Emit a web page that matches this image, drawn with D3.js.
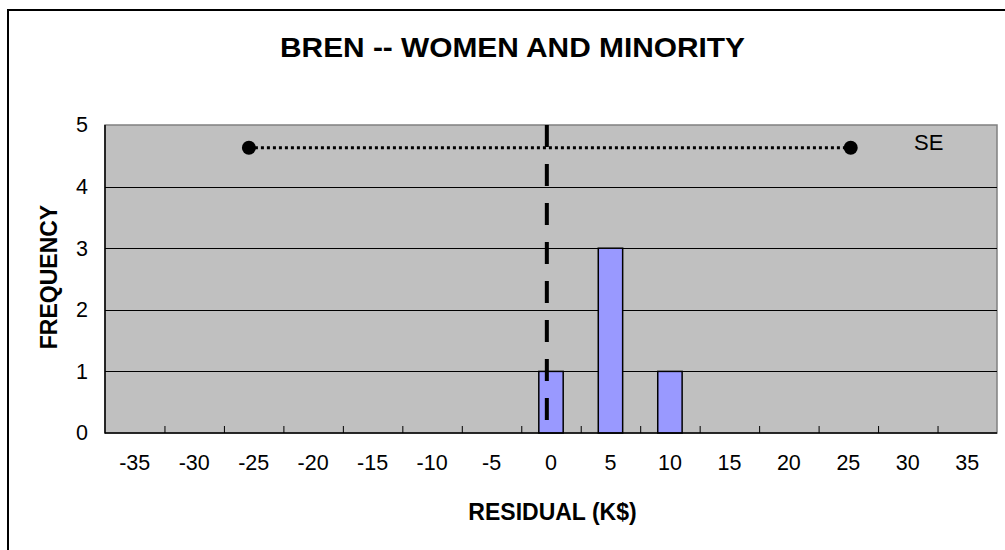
<!DOCTYPE html>
<html>
<head>
<meta charset="utf-8">
<script src="https://cdn.jsdelivr.net/npm/d3@7"></script>
<style>
  html, body { margin: 0; padding: 0; background: #fff; }
  svg { display: block; font-family: "Liberation Sans", Arial, sans-serif; }
</style>
</head>
<body>
<svg id="chart" width="1005" height="550"></svg>
<script>
// ---- data ----
const categories = [-35, -30, -25, -20, -15, -10, -5, 0, 5, 10, 15, 20, 25, 30, 35];
const frequency  = [0, 0, 0, 0, 0, 0, 0, 1, 3, 1, 0, 0, 0, 0, 0];
const yTicks = [0, 1, 2, 3, 4, 5];
const seEnds = [-25.4, 25.2];   // SE range endpoints (K$)
const seLevel = 4.63;          // frequency level where SE bar is drawn
const meanResidual = -0.35;    // dashed vertical reference
const seLabel = "SE";
const titleText = "BREN -- WOMEN AND MINORITY";
const xTitle = "RESIDUAL (K$)";
const yTitle = "FREQUENCY";

// ---- layout ----
const svg = d3.select("#chart");
const L = 105, R = 997, T = 125, B = 433;

const x = d3.scaleBand().domain(categories).range([L, R])
  .paddingInner(0.59).paddingOuter(0.295);
const xLin = d3.scaleLinear()
  .domain([categories[0] - 2.5, categories[categories.length - 1] + 2.5])
  .range([L, R]);
const y = d3.scaleLinear().domain([0, 5]).range([B, T]);

// outer frame
svg.append("rect").attr("x", 8).attr("y", 10).attr("width", 1100).attr("height", 600)
  .attr("fill", "#fff").attr("stroke", "#000").attr("stroke-width", 2);

// plot area
svg.append("rect").attr("x", L).attr("y", T).attr("width", R - L).attr("height", B - T)
  .attr("fill", "#C0C0C0").attr("stroke", "#808080").attr("stroke-width", 1.5);

// gridlines
svg.append("g").selectAll("line").data(yTicks.filter(d => d > 0 && d < 5)).join("line")
  .attr("x1", L).attr("x2", R)
  .attr("y1", d => Math.round(y(d)) + 0.5).attr("y2", d => Math.round(y(d)) + 0.5)
  .attr("stroke", "#000").attr("stroke-width", 1);

// bars
svg.append("g").selectAll("rect").data(categories.map((c, i) => ({c, v: frequency[i]})).filter(d => d.v > 0))
  .join("rect")
  .attr("x", d => x(d.c)).attr("width", x.bandwidth())
  .attr("y", d => y(d.v)).attr("height", d => y(0) - y(d.v))
  .attr("fill", "#9999FF").attr("stroke", "#000").attr("stroke-width", 1.5);

// x axis ticks (between categories, inward)
const boundaries = categories.slice(1).map(c => c - 2.5);
const xTickAxis = d3.axisBottom(xLin).tickValues(boundaries).tickSizeInner(-7).tickSizeOuter(0).tickFormat("");
const gxt = svg.append("g").attr("transform", `translate(0,${B})`).call(xTickAxis);
gxt.select(".domain").remove();
gxt.selectAll(".tick line").attr("stroke", "#000").attr("stroke-width", 1);

// x labels
const xAxis = d3.axisBottom(x).tickSize(0).tickPadding(22);
const gx = svg.append("g").attr("transform", `translate(0,${B})`).call(xAxis);
gx.select(".domain").remove();
gx.selectAll("text").attr("font-size", 21.5).attr("font-family", "Liberation Sans, Arial, sans-serif").attr("fill", "#000");

// y axis labels
const yAxis = d3.axisLeft(y).tickValues(yTicks).tickSize(0).tickPadding(17).tickFormat(d3.format("d"));
const gy = svg.append("g").attr("transform", `translate(${L},0)`).call(yAxis);
gy.select(".domain").remove();
gy.selectAll("text").attr("font-size", 21.5).attr("font-family", "Liberation Sans, Arial, sans-serif").attr("fill", "#000");

// axis lines
svg.append("line").attr("x1", L).attr("x2", L).attr("y1", T).attr("y2", B + 0.5)
  .attr("stroke", "#000").attr("stroke-width", 1.5);
svg.append("line").attr("x1", L).attr("x2", R).attr("y1", B).attr("y2", B)
  .attr("stroke", "#000").attr("stroke-width", 1.5);

// dashed mean line
svg.append("line")
  .attr("x1", xLin(meanResidual)).attr("x2", xLin(meanResidual))
  .attr("y1", y(5)).attr("y2", y(0))
  .attr("stroke", "#000").attr("stroke-width", 4).attr("stroke-dasharray", "22,17");

// SE dotted line + end markers
svg.append("line")
  .attr("x1", xLin(seEnds[0])).attr("x2", xLin(seEnds[1]))
  .attr("y1", y(seLevel)).attr("y2", y(seLevel))
  .attr("stroke", "#000").attr("stroke-width", 3).attr("stroke-dasharray", "3,3");
svg.append("g").selectAll("circle").data(seEnds).join("circle")
  .attr("cx", d => xLin(d)).attr("cy", y(seLevel)).attr("r", 7).attr("fill", "#000");

svg.append("text").attr("x", 914).attr("y", 150).attr("font-size", 22).attr("fill", "#000").text(seLabel);

// title
svg.append("text").attr("x", 512.5).attr("y", 57).attr("text-anchor", "middle")
  .attr("font-size", 28).attr("font-weight", "bold").attr("fill", "#000")
  .attr("textLength", 465).attr("lengthAdjust", "spacingAndGlyphs").text(titleText);

// axis titles
svg.append("text").attr("x", 552.5).attr("y", 520).attr("text-anchor", "middle")
  .attr("font-size", 23).attr("font-weight", "bold").attr("fill", "#000").text(xTitle);
svg.append("text").attr("transform", `translate(57,277) rotate(-90)`).attr("text-anchor", "middle")
  .attr("font-size", 23).attr("font-weight", "bold").attr("fill", "#000").text(yTitle);
</script>
</body>
</html>
